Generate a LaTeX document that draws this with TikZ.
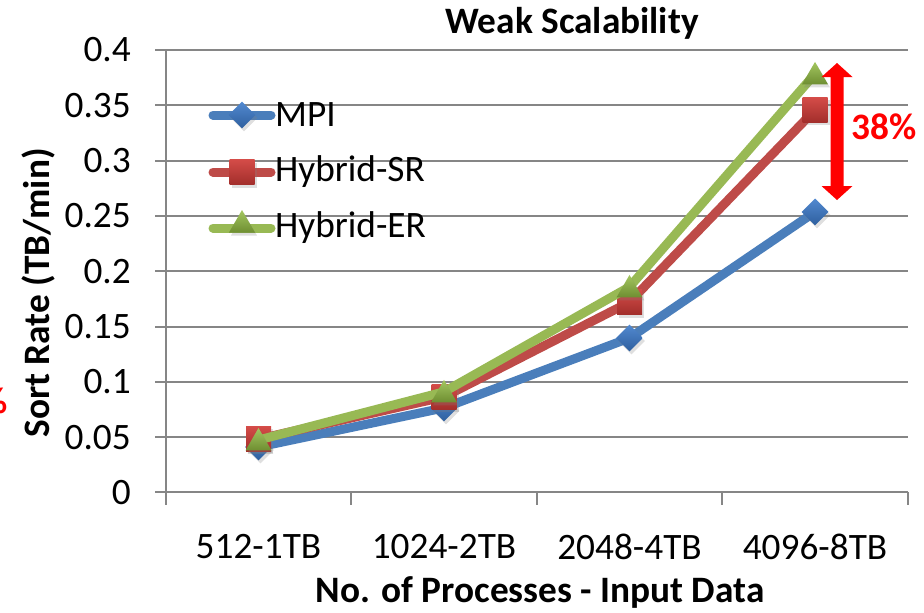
\documentclass[tikz,border=0pt]{standalone}
\usepackage{fontspec}
\setmainfont{Carlito}
\usetikzlibrary{shapes.geometric,shadows}

\definecolor{gridgray}{HTML}{868686}
\definecolor{mpiline}{HTML}{4A7EBB}
\definecolor{mpitop}{HTML}{5289D0}
\definecolor{mpibot}{HTML}{2E5F9E}
\definecolor{srline}{HTML}{BE4B48}
\definecolor{srtop}{HTML}{D44C48}
\definecolor{srbot}{HTML}{A22E2B}
\definecolor{erline}{HTML}{98B954}
\definecolor{ertop}{HTML}{A3C660}
\definecolor{erbot}{HTML}{6E8E31}
\definecolor{alertred}{HTML}{FF0000}

% value -> vertical pixel position (0 at 492.4, 0.05 per 55.3)
\newcommand{\vy}[1]{492.4-1106*#1}

\tikzset{
  x=1pt, y=-1pt,
  every node/.style={font=\fontsize{37.3}{44}\selectfont, inner sep=0pt},
  grid/.style={draw=gridgray, line width=2pt},
  series/.style={line width=9pt, line cap=round, line join=round},
  mark shadow/.style={drop shadow={opacity=0.25, shadow xshift=2pt, shadow yshift=-3pt}},
  mpimark/.style={diamond, minimum width=27pt, minimum height=27pt,
    top color=mpitop, bottom color=mpibot, mark shadow},
  srmark/.style={rectangle, minimum size=25pt,
    top color=srtop, bottom color=srbot, mark shadow},
  ermark/.style={regular polygon, regular polygon sides=3, minimum size=30pt,
    top color=ertop, bottom color=erbot, mark shadow},
  ticklab/.style={anchor=east},
  catlab/.style={anchor=center},
  boldlab/.style={font=\fontsize{37.3}{44}\selectfont\bfseries},
}

\begin{document}
\begin{tikzpicture}
\useasboundingbox (0,0) rectangle (924,613);

% horizontal gridlines with tick labels
\foreach \v/\lab [count=\i] in {0/0,0.05/0.05,0.1/0.1,0.15/0.15,0.2/0.2,0.25/0.25,0.3/0.3,0.35/0.35,0.4/0.4} {
  \draw[grid] (155,{\vy{\v}}) -- (908,{\vy{\v}});
  \node[ticklab] (ytick\i) at (131,{\vy{\v}}) {\lab};
}
% value axis
\draw[grid] (165.7,{\vy{0.4}}) -- (165.7,505);
% category ticks
\foreach \x in {351.2,536.7,722.2,907.7}
  \draw[grid] (\x,{\vy{0}}) -- (\x,505);

% category labels
\node[catlab] (c1) at (258.5,547) {512-1TB};
\node[catlab] (c2) at (444,547) {1024-2TB};
\node[catlab] (c3) at (629.5,547) {2048-4TB};
\node[catlab] (c4) at (815,547) {4096-8TB};

% titles
\node[boldlab] (title) at (572,23) {Weak Scalability};
\node[boldlab] (xtitle) at (540,592) {No. of Processes - Input Data};
\node[boldlab, rotate=90] (ytitle) at (38,293) {Sort Rate (TB/min)};

% data points
\coordinate (m1) at (258.5,{\vy{0.0410}});
\coordinate (m2) at (444,{\vy{0.0764}});
\coordinate (m3) at (629.5,{\vy{0.1396}});
\coordinate (m4) at (815,{\vy{0.2536}});
\coordinate (s1) at (258.5,{\vy{0.0483}});
\coordinate (s2) at (444,{\vy{0.0863}});
\coordinate (s3) at (629.5,{\vy{0.1720}});
\coordinate (s4) at (815,{\vy{0.3458}});
\coordinate (e1) at (258.5,{\vy{0.0474}});
\coordinate (e2) at (444,{\vy{0.0909}});
\coordinate (e3) at (629.5,{\vy{0.1858}});
\coordinate (e4) at (815,{\vy{0.3784}});

% MPI series
\draw[series, mpiline] (m1) -- (m2) -- (m3) -- (m4);
\foreach \p in {1,2,3,4} \node[mpimark] (mk\p) at (m\p) {};
% Hybrid-SR series
\draw[series, srline] (s1) -- (s2) -- (s3) -- (s4);
\foreach \p in {1,2,3,4} \node[srmark] (sk\p) at (s\p) {};
% Hybrid-ER series
\draw[series, erline] (e1) -- (e2) -- (e3) -- (e4);
\foreach \p in {1,2,3,4} \node[ermark] (ek\p) at ([yshift=-3pt]e\p) {};

% legend
\coordinate (la1) at (213,115);  \coordinate (lb1) at (271,115);
\coordinate (la2) at (213,172);  \coordinate (lb2) at (271,172);
\coordinate (la3) at (213,228);  \coordinate (lb3) at (271,228);
\draw[series, mpiline] (la1) -- (lb1);
\node[mpimark] (lm1) at (242,115) {};
\node[anchor=west] (lt1) at (275,115) {MPI};
\draw[series, srline] (la2) -- (lb2);
\node[srmark] (lm2) at (242,172) {};
\node[anchor=west] (lt2) at (275,172) {Hybrid-SR};
\draw[series, erline] (la3) -- (lb3);
\node[ermark] (lm3) at (242,225) {};
\node[anchor=west] (lt3) at (275,228) {Hybrid-ER};

% gap arrow and its label
\coordinate (atop) at (837,63);
\coordinate (abot) at (837,200);
\fill[alertred] (atop) -- ++(15.5,14) -- ++(-9,0) -- (843.5,186) -- ++(9,0)
  -- (abot) -- ++(-15.5,-14) -- ++(9,0) -- (830.5,77) -- ++(-9,0) -- cycle;
\node[boldlab, text=alertred, anchor=west] (gap) at (851,127) {38\%};
\node[boldlab, text=alertred, anchor=east] (gapleft) at (8,401) {38\%};
\end{tikzpicture}
\end{document}
